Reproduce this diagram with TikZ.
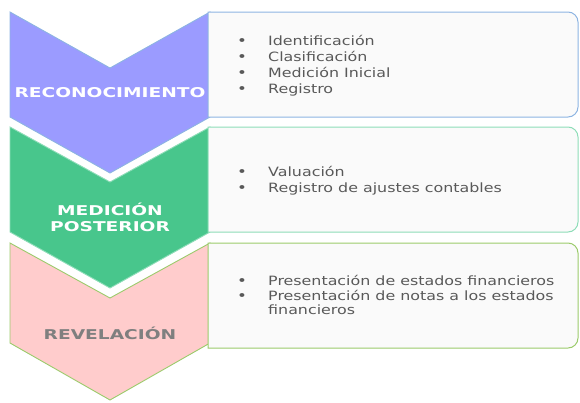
\documentclass[tikz,border=0pt]{standalone}
\usepackage{fontspec}
\newfontfamily\bodyf{DejaVu Sans}[FakeStretch=1.24]
\newfontfamily\headf{DejaVu Sans}[FakeStretch=1.38]
\definecolor{purp}{HTML}{9B9BFF}
\definecolor{purpline}{HTML}{8DB4E2}
\definecolor{grn}{HTML}{48C68C}
\definecolor{grnline}{HTML}{8EDDB8}
\definecolor{pnk}{HTML}{FFCCCC}
\definecolor{pnkline}{HTML}{9BCB6B}
\definecolor{boxfill}{HTML}{FAFAFA}
\definecolor{txt}{HTML}{595959}
\definecolor{headgray}{HTML}{7F7F7F}
\tikzset{
  chev/.style={line width=0.9pt, line join=miter},
  tbox/.style={line width=1pt, fill=boxfill},
  item/.style={anchor=base west, inner sep=0pt, font=\bodyf\fontsize{12.8}{16}\selectfont, text=txt},
  bul/.style={anchor=base, inner sep=0pt, font=\bodyf\fontsize{13.5}{16}\selectfont, text=txt},
  head/.style={anchor=base, inner sep=0pt, font=\headf\bfseries\fontsize{13.5}{16}\selectfont, text=white},
}
\begin{document}
\begin{tikzpicture}[x=1pt,y=-1pt]
\useasboundingbox (0,0) rectangle (580,402);
% chevrons
\draw[chev, draw=purpline, fill=purp] (10,12) -- (110,68) -- (210,12) -- (210,117) -- (110,173) -- (10,117) -- cycle;
\draw[chev, draw=grnline, fill=grn] (10,127) -- (110,182) -- (210,127) -- (210,232) -- (110,288) -- (10,232) -- cycle;
\draw[chev, draw=pnkline, fill=pnk] (10,243) -- (110,298) -- (210,243) -- (210,343) -- (110,400) -- (10,343) -- cycle;
% text boxes
\draw[tbox, draw=purpline] (208,12) -- (568,12) arc(-90:0:10) -- (578,107) arc(0:90:10) -- (208,117) -- cycle;
\draw[tbox, draw=grnline] (208,127) -- (568,127) arc(-90:0:10) -- (578,222) arc(0:90:10) -- (208,232) -- cycle;
\draw[tbox, draw=pnkline] (208,243) -- (568,243) arc(-90:0:10) -- (578,338) arc(0:90:10) -- (208,348) -- cycle;
% headings
\node[head] (h1) at (110,97) {RECONOCIMIENTO};
\node[head] (h2a) at (110,215) {MEDICIÓN};
\node[head] (h2b) at (110,231) {POSTERIOR};
\node[head, text=headgray] (h3) at (110,339) {REVELACIÓN};
% box 1
\node[bul] (b11) at (242,45) {•};
\node[item] (t11) at (268,45) {Identificación};
\node[bul] (b12) at (242,61) {•};
\node[item] (t12) at (268,61) {Clasificación};
\node[bul] (b13) at (242,77) {•};
\node[item] (t13) at (268,77) {Medición Inicial};
\node[bul] (b14) at (242,93) {•};
\node[item] (t14) at (268,93) {Registro};
% box 2
\node[bul] (b21) at (242,176) {•};
\node[item] (t21) at (268,176) {Valuación};
\node[bul] (b22) at (242,192) {•};
\node[item] (t22) at (268,192) {Registro de ajustes contables};
% box 3
\node[bul] (b31) at (242,285) {•};
\node[item] (t31) at (268,285) {Presentación de estados financieros};
\node[bul] (b32) at (242,300) {•};
\node[item] (t32) at (268,300) {Presentación de notas a los estados};
\node[item] (t33) at (268,314) {financieros};
\end{tikzpicture}
\end{document}
